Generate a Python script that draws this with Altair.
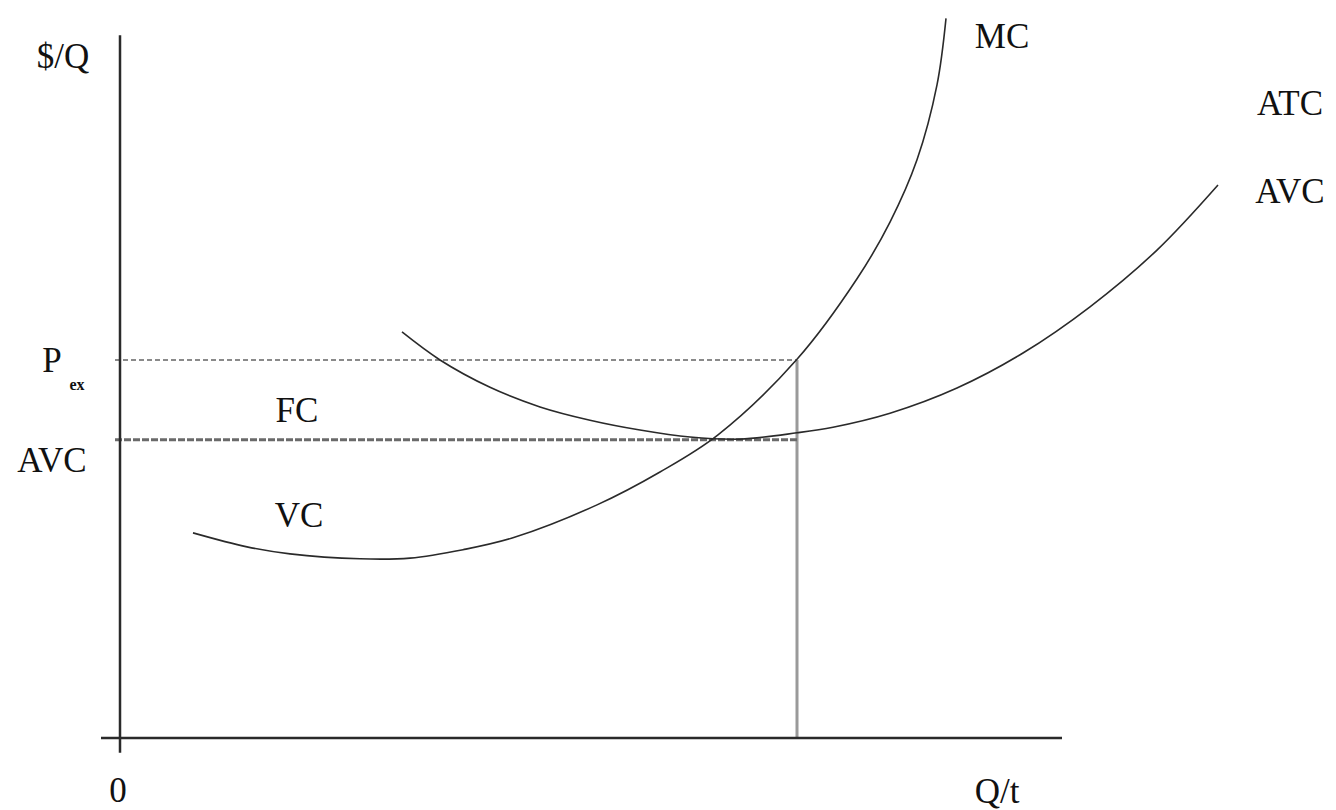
import altair as alt
import pandas as pd

# ---- data (Q units on x, $/Q units on y) ----
mc_q = [7.3, 12.7, 17.0, 24.0, 29.0, 34.3, 39.3, 47.7, 54.0, 59.8, 67.7, 73.7, 77.0, 79.7, 81.7, 82.6]
mc_p = [29.3, 27.3, 26.3, 25.6, 25.7, 26.9, 28.6, 33.3, 38.0, 43.3, 54.1, 65.6, 73.7, 82.6, 93.3, 102.8]

atc_q = [28.2, 32.0, 37.0, 42.0, 47.0, 52.0, 57.0, 62.0, 67.7, 71.3, 77.0, 83.7, 90.3, 97.0, 103.7, 109.8]
atc_p = [58.0, 54.0, 50.1, 47.3, 45.4, 44.0, 43.0, 42.7, 43.6, 44.4, 46.4, 50.0, 55.0, 61.6, 69.7, 79.0]

q_star = 67.7
p_ex = 54.0
avc_min = 42.6

labels = ["$/Q", "MC", "ATC", "AVC", "P", "FC", "AVC", "VC", "0", "Q/t"]
label_q = [-5.7, 88.2, 117.0, 117.0, -6.8, 17.7, -6.8, 17.9, -0.2, 87.7]
label_p = [95.7, 98.6, 89.0, 76.4, 52.3, 45.1, 38.0, 30.1, -9.1, -9.3]

sub_labels = ["ex"]
sub_q = [-4.3]
sub_p = [49.7]

X = alt.Scale(domain=[-12, 121.6], nice=False, zero=False)
Y = alt.Scale(domain=[-10.29, 105.43], nice=False, zero=False)

def xe(f="q"):
    return alt.X(f"{f}:Q", scale=X, axis=None)

def ye(f="p"):
    return alt.Y(f"{f}:Q", scale=Y, axis=None)

mc_df = pd.DataFrame({"q": mc_q, "p": mc_p, "i": range(len(mc_q))})
atc_df = pd.DataFrame({"q": atc_q, "p": atc_p, "i": range(len(atc_q))})

mc = alt.Chart(mc_df).mark_line(color="#2a2a2a", strokeWidth=1.6, interpolate="catmull-rom").encode(
    x=xe(), y=ye(), order="i:Q")
atc = alt.Chart(atc_df).mark_line(color="#2a2a2a", strokeWidth=1.6, interpolate="catmull-rom").encode(
    x=xe(), y=ye(), order="i:Q")

# axes as rules
axes_df = pd.DataFrame({
    "q": [0.0, -1.9], "q2": [0.0, 94.2],
    "p": [-2.1, 0.0], "p2": [100.4, 0.0],
})
axes = alt.Chart(axes_df).mark_rule(color="#2a2a2a", strokeWidth=2.5).encode(
    x=xe(), x2="q2:Q", y=ye(), y2="p2:Q")

pex_df = pd.DataFrame({"q": [-0.5], "q2": [q_star], "p": [p_ex], "p2": [p_ex]})
pex = alt.Chart(pex_df).mark_rule(color="#8a8a8a", strokeWidth=2, strokeDash=[5, 3]).encode(
    x=xe(), x2="q2:Q", y=ye(), y2="p2:Q")

avc_df = pd.DataFrame({"q": [-0.5], "q2": [q_star], "p": [avc_min], "p2": [avc_min]})
avc_line = alt.Chart(avc_df).mark_rule(color="#6a6a6a", strokeWidth=3, strokeDash=[7, 2]).encode(
    x=xe(), x2="q2:Q", y=ye(), y2="p2:Q")

vert_df = pd.DataFrame({"q": [q_star], "q2": [q_star], "p": [0.0], "p2": [p_ex]})
vert = alt.Chart(vert_df).mark_rule(color="#9a9a9a", strokeWidth=3).encode(
    x=xe(), x2="q2:Q", y=ye(), y2="p2:Q")

lab_df = pd.DataFrame({"label": labels, "q": label_q, "p": label_p})
texts = alt.Chart(lab_df).mark_text(
    font="Liberation Serif", fontSize=35, color="#111111", align="center", baseline="alphabetic"
).encode(x=xe(), y=ye(), text="label:N")

sub_df = pd.DataFrame({"label": sub_labels, "q": sub_q, "p": sub_p})
subs = alt.Chart(sub_df).mark_text(
    font="Liberation Serif", fontSize=16, fontWeight="bold", color="#111111", align="center", baseline="alphabetic"
).encode(x=xe(), y=ye(), text="label:N")

chart = alt.layer(vert, pex, avc_line, axes, mc, atc, texts, subs).properties(
    width=1336, height=810, autosize=alt.AutoSizeParams(type="none"), padding=0,
    background="white"
).configure_view(stroke=None)

chart.save("out.html", embed_options={"renderer": "svg", "actions": False})
